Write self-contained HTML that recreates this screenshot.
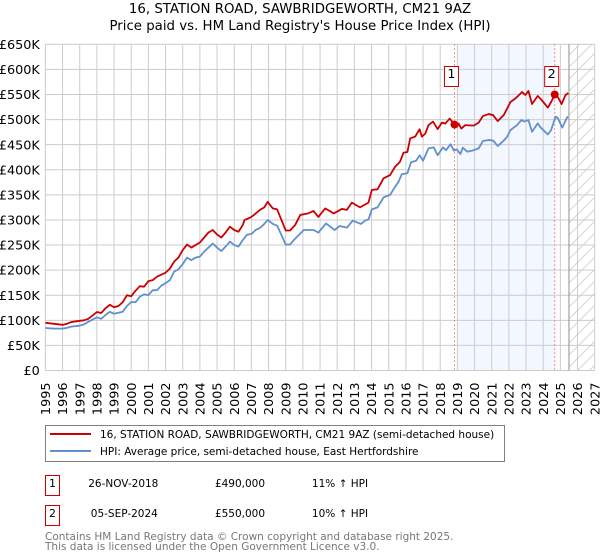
<!DOCTYPE html>
<html lang="en">
<head>
<meta charset="utf-8">
<title>16, Station Road price chart</title>
<style>
html,body{margin:0;padding:0;background:#fff;}
body{width:600px;height:560px;overflow:hidden;position:relative;}
svg{position:absolute;left:0;top:0;}
text{font-family:"DejaVu Sans","Liberation Sans",sans-serif;fill:#000;}
</style>
</head>
<body>
<svg id="chart" width="600" height="560" viewBox="0 0 600 560">
  <defs>
    <pattern id="hatch" patternUnits="userSpaceOnUse" width="12" height="12">
      <path d="M-1 13 L13 -1 M-1 1 L1 -1 M11 13 L13 11" stroke="#cccccc" stroke-width="0.8" fill="none"/>
    </pattern>
    <clipPath id="plot-clip"><rect x="45.4" y="44.3" width="549.3" height="326.2"/></clipPath>
  </defs>
  <text x="300" y="13" font-size="13.33" text-anchor="middle">16, STATION ROAD, SAWBRIDGEWORTH, CM21 9AZ</text>
  <text x="300" y="30" font-size="13.33" text-anchor="middle">Price paid vs. HM Land Registry's House Price Index (HPI)</text>
  <g id="band-layer"></g>
  <g id="grid-layer"></g>
  <g id="series-layer" clip-path="url(#plot-clip)"></g>
  <g id="marker-layer"></g>
  <g id="tick-layer"></g>

  <rect x="45.5" y="425.5" width="459" height="36" fill="#fff" stroke="#808080" stroke-width="1"/>
  <line x1="50" x2="91" y1="434" y2="434" stroke="#cc0000" stroke-width="2"/>
  <text x="100" y="438" font-size="10.5">16, STATION ROAD, SAWBRIDGEWORTH, CM21 9AZ (semi-detached house)</text>
  <line x1="50" x2="91" y1="451" y2="451" stroke="#6090d0" stroke-width="2"/>
  <text x="100" y="455" font-size="10.5">HPI: Average price, semi-detached house, East Hertfordshire</text>

  <rect x="45.5" y="475.5" width="14" height="20" fill="#fff" stroke="#cc0000"/>
  <text x="52.5" y="487" font-size="11" text-anchor="middle">1</text>
  <text x="123.3" y="487" font-size="10.5" text-anchor="middle">26-NOV-2018</text>
  <text x="240" y="487" font-size="10.5" text-anchor="middle">£490,000</text>
  <text x="340" y="487" font-size="10.5" text-anchor="middle">11% ↑ HPI</text>

  <rect x="45.5" y="505.5" width="14" height="20" fill="#fff" stroke="#cc0000"/>
  <text x="52.5" y="517" font-size="11" text-anchor="middle">2</text>
  <text x="124.3" y="517" font-size="10.5" text-anchor="middle">05-SEP-2024</text>
  <text x="240" y="517" font-size="10.5" text-anchor="middle">£550,000</text>
  <text x="340" y="517" font-size="10.5" text-anchor="middle">10% ↑ HPI</text>

  <text x="45" y="540" font-size="10.5" style="fill:#777">Contains HM Land Registry data © Crown copyright and database right 2025.</text>
  <text x="45" y="550" font-size="10.5" style="fill:#777">This data is licensed under the Open Government Licence v3.0.</text>
</svg>
<script>
const yearTicks = [1995,1996,1997,1998,1999,2000,2001,2002,2003,2004,2005,2006,2007,2008,2009,2010,2011,2012,2013,2014,2015,2016,2017,2018,2019,2020,2021,2022,2023,2024,2025,2026,2027];
const valueTicks = [0,50,100,150,200,250,300,350,400,450,500,550,600,650];
const saleDates = [2018.83,2024.67];
const saleValues = [490,550];
const saleLabels = ["1","2"];
const dataEndDate = 2025.5;
const priceDates = [1995,1995.25,1995.5,1996,1996.25,1996.5,1997,1997.25,1997.5,1998,1998.25,1998.5,1998.75,1999,1999.25,1999.5,1999.75,2000,2000.25,2000.5,2000.75,2001,2001.25,2001.5,2001.75,2002,2002.25,2002.5,2002.75,2003,2003.25,2003.5,2003.75,2004,2004.25,2004.5,2004.75,2005,2005.25,2005.5,2005.75,2006,2006.25,2006.5,2006.6,2006.75,2007,2007.25,2007.5,2007.75,2007.95,2008.25,2008.5,2008.75,2009,2009.25,2009.55,2009.85,2010,2010.3,2010.62,2010.9,2011.3,2011.8,2012.27,2012.56,2012.85,2013.33,2013.82,2014.02,2014.35,2014.7,2015.08,2015.37,2015.66,2015.86,2016.09,2016.25,2016.54,2016.8,2016.93,2017.13,2017.32,2017.58,2017.85,2018.1,2018.3,2018.55,2018.84,2018.98,2019.07,2019.23,2019.46,2019.95,2020.24,2020.49,2020.82,2021.08,2021.35,2021.7,2021.9,2022.09,2022.38,2022.77,2022.96,2023.14,2023.35,2023.68,2023.88,2024.27,2024.46,2024.68,2024.85,2025.07,2025.3,2025.46];
const priceValues = [95,94,93,91,93,96.5,99,100,103,116.5,114.5,124,131,126,128.5,136,150,148,159,168,167,178,180,187,191,195,203,217,225,240,251,245,250,255,265,275,280,271,265,275,286.5,280,276.5,290,300,302,306,313,320,325,336,323,321,300,279,279,290,310,311,313,318,306,323,313,322,320,334.5,325,334.5,360,361,383,389.5,406,416,434,435.5,462.7,466,480.7,466,472,489,496,481,494,492,502,490,486,492,482,489,488,494,507,511,509,497,509,522,535,542,555,549,557,531,547,540,524,535,550,545,531,549,553];
const hpiDates = [1995,1995.5,1996,1996.25,1996.5,1997,1997.25,1997.5,1998,1998.25,1998.5,1998.75,1999,1999.5,1999.75,2000,2000.25,2000.5,2000.75,2001,2001.25,2001.5,2001.75,2002,2002.25,2002.5,2002.75,2003,2003.25,2003.5,2003.75,2004,2004.25,2004.5,2004.75,2005,2005.25,2005.5,2005.75,2006,2006.25,2006.5,2006.75,2007,2007.25,2007.5,2007.75,2007.95,2008.25,2008.5,2008.75,2009,2009.25,2009.5,2009.85,2010.05,2010.62,2010.9,2011.35,2011.85,2012.15,2012.56,2012.9,2013.38,2013.62,2013.82,2014.02,2014.35,2014.7,2015.08,2015.37,2015.57,2015.76,2016.09,2016.3,2016.6,2016.8,2017,2017.32,2017.62,2017.85,2018.16,2018.34,2018.6,2018.8,2018.95,2019.18,2019.32,2019.57,2019.95,2020.24,2020.49,2020.82,2021.08,2021.35,2021.7,2021.9,2022.09,2022.48,2022.73,2022.9,2023.14,2023.35,2023.68,2023.84,2024.27,2024.46,2024.72,2024.85,2025.11,2025.4,2025.46];
const hpiValues = [84.7,83.4,83.4,85,87.4,89.3,92,97,106,103,110.6,117,113,117,128.5,136.5,136,147,152,150,160,160,169,174,180,197,201.5,212,225,220,225,227,237,245,253,245,238,247,257,250,247,260,270.7,272,280,284,292,300,292,288.6,270,251,251,261,273,280,280,274.7,293,280,288,284.6,298.6,292,298.6,301,321,325,345,350,366,376,391,393,415,418,429,418,442.6,444.7,429,444.7,439,451,438,440.7,431.5,444,436,439,442.6,457.4,459.4,458,447.4,458,465.7,479,489,499,496,499,475.7,492.5,484.6,470.4,479,505.8,503,484,505,505.5];

const SVGNS = 'http://www.w3.org/2000/svg';
const plotLeft = 45.4, plotRight = 594.7, plotTop = 44.3, plotBottom = 370.5;
function xScale(year){ return plotLeft + (year - 1995) * (plotRight - plotLeft) / 32; }
function yScale(k){ return plotBottom - k * (plotBottom - plotTop) / 650; }
function make(tag, parent, attrs){
  const el = document.createElementNS(SVGNS, tag);
  for (const k in attrs) el.setAttribute(k, attrs[k]);
  parent.appendChild(el);
  return el;
}
function pathFrom(dates, values){
  return dates.map((d,i)=>(i?'L':'M')+xScale(d).toFixed(2)+' '+yScale(values[i]).toFixed(2)).join(' ');
}
const bandLayer = document.getElementById('band-layer');
const gridLayer = document.getElementById('grid-layer');
const seriesLayer = document.getElementById('series-layer');
const markerLayer = document.getElementById('marker-layer');
const tickLayer = document.getElementById('tick-layer');

const band = make('rect', bandLayer, {x:xScale(saleDates[0])+2.5, y:plotTop, width:xScale(saleDates[1])-xScale(saleDates[0])-2.5, height:plotBottom-plotTop, fill:'#f3f7ff'});


const hatch = make('rect', bandLayer, {x:xScale(dataEndDate), y:plotTop, width:plotRight-xScale(dataEndDate), height:plotBottom-plotTop, fill:'url(#hatch)'});



yearTicks.forEach(function(y){
  const x = xScale(y);
  const gl = make('line', gridLayer, {x1:x, x2:x, y1:plotTop, y2:plotBottom, stroke:'#cccccc', 'stroke-width':1});
  
  
  const t = make('text', tickLayer, {transform:'translate('+(x+4.6)+' 382.5) rotate(-90)', 'font-size':12.8, 'text-anchor':'end'});
  t.textContent = y;
  
  
});
valueTicks.forEach(function(v){
  const y = yScale(v);
  const gl = make('line', gridLayer, {x1:plotLeft, x2:plotRight, y1:y, y2:y, stroke:'#cccccc', 'stroke-width':1});
  
  
  const t = make('text', tickLayer, {x:39.8, y:y+4.6, 'font-size':12.8, 'text-anchor':'end'});
  t.textContent = v === 0 ? '£0' : '£' + v + 'K';
  
  
});
const endLine = make('line', gridLayer, {x1:xScale(dataEndDate), x2:xScale(dataEndDate), y1:plotTop, y2:plotBottom, stroke:'#909090', 'stroke-width':1});



saleDates.forEach(function(d){
  const x = xScale(d);
  const l = make('line', gridLayer, {x1:x, x2:x, y1:plotTop, y2:plotBottom, stroke:'#ff6666', 'stroke-width':1, 'stroke-dasharray':'1.5 2.5'});
  
  
});

const hpiLine = make('path', seriesLayer, {d:pathFrom(hpiDates, hpiValues), fill:'none', stroke:'#6090d0', 'stroke-width':1.8, 'stroke-linejoin':'round'});


const priceLine = make('path', seriesLayer, {d:pathFrom(priceDates, priceValues), fill:'none', stroke:'#cc0000', 'stroke-width':1.8, 'stroke-linejoin':'round'});



saleDates.forEach(function(d,i){
  const x = xScale(d);
  const dot = make('circle', markerLayer, {cx:x, cy:yScale(saleValues[i]), r:4, fill:'#cc0000'});
  
  
  const box = make('rect', markerLayer, {x:x-10, y:66.5, width:14, height:20, fill:'#fff', stroke:'#cc0000', 'stroke-width':1});
  
  
  const t = make('text', markerLayer, {x:x-3, y:78, 'font-size':12.8, 'text-anchor':'middle'});
  t.textContent = saleLabels[i];
  
  
});
</script>
</body>
</html>
